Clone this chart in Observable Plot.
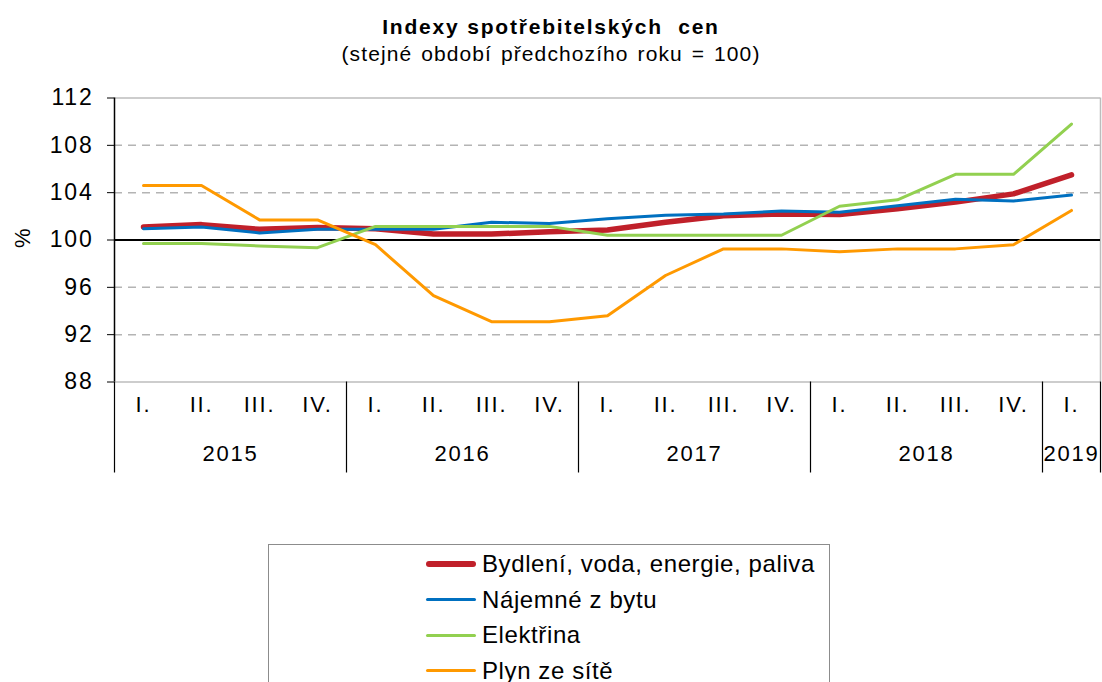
<!DOCTYPE html>
<html>
<head>
<meta charset="utf-8">
<script src="https://cdn.jsdelivr.net/npm/d3@7"></script>
<script src="https://cdn.jsdelivr.net/npm/@observablehq/plot@0.6"></script>
<style>
  html, body { margin: 0; padding: 0; background: #fff; }
  body { width: 1102px; height: 682px; position: relative; overflow: hidden; font-family: "Liberation Sans", Arial, sans-serif; color: #000; }
  #title { position: absolute; left: 0; width: 1102px; top: 15px; text-align: center; font-weight: bold; font-size: 21px; letter-spacing: 1.8px; white-space: pre; }
  #subtitle { position: absolute; left: 0; width: 1102px; top: 42px; text-align: center; font-size: 21px; letter-spacing: 1.1px; word-spacing: 2px; white-space: pre; }
  #chart { position: absolute; left: 0; top: 70px; }
  #legend { position: absolute; left: 268px; top: 544px; width: 562px; height: 160px; border: 1.5px solid #8c8c8c; box-sizing: border-box; }
  .item { position: absolute; left: 157px; height: 30px; display: flex; align-items: center; font-size: 24px; letter-spacing: 0.6px; white-space: nowrap; }
  .swatch { width: 50px; margin-right: 6px; border-radius: 3px; }
</style>
</head>
<body>
<div id="title">Indexy spotřebitelských  cen</div>
<div id="subtitle">(stejné období předchozího roku = 100)</div>
<div id="chart"></div>
<div id="legend"></div>
<script>
// ---- data ----
const quarters = ["I.","II.","III.","IV.","I.","II.","III.","IV.","I.","II.","III.","IV.","I.","II.","III.","IV.","I."];
const years = ["2015","2016","2017","2018","2019"];
const yearQuarterCounts = [4, 4, 4, 4, 1];
const yTicks = [88, 92, 96, 100, 104, 108, 112];

const seriesNames = ["Bydlení, voda, energie, paliva", "Nájemné z bytu", "Elektřina", "Plyn ze sítě"];
const bydleni = [101.1, 101.3, 100.9, 101.05, 100.95, 100.5, 100.5, 100.7, 100.85, 101.5, 102.05, 102.2, 102.15, 102.65, 103.2, 103.9, 105.5];
const najemne = [100.95, 101.1, 100.6, 100.9, 100.9, 100.9, 101.5, 101.4, 101.8, 102.1, 102.2, 102.45, 102.35, 102.9, 103.45, 103.3, 103.8];
const elektrina = [99.7, 99.7, 99.5, 99.35, 101.15, 101.15, 101.15, 101.15, 100.4, 100.4, 100.4, 100.4, 102.85, 103.4, 105.55, 105.55, 109.8];
const plyn = [104.6, 104.6, 101.7, 101.7, 99.6, 95.3, 93.1, 93.1, 93.6, 97.0, 99.25, 99.25, 99.0, 99.25, 99.25, 99.6, 102.5];

const seriesValues = [bydleni, najemne, elektrina, plyn];
const colors = ["#c0202a", "#0070c0", "#92d050", "#ff9900"];
const widths = [5.5, 3, 3, 3];

// ---- build tables ----
const rows = [];
seriesValues.forEach((vals, s) => vals.forEach((v, i) => rows.push({series: seriesNames[s], i, v})));
const quarterRows = quarters.map((q, i) => ({q, i}));
const yearRows = [];
const bounds = [-0.5];
let start = 0;
years.forEach((y, k) => {
  const n = yearQuarterCounts[k];
  yearRows.push({y, c: start + (n - 1) / 2});
  start += n;
  bounds.push(start - 0.5);
});

const W = 1102, H = 470, mTop = 27.5, mBottom = 158.5, mLeft = 114, mRight = 2;
const plotH = H - mTop - mBottom;

const lineMarks = seriesNames.map((name, s) =>
  Plot.line(rows.filter(d => d.series === name), {x: "i", y: "v", stroke: colors[s], strokeWidth: widths[s], strokeLinejoin: "round", strokeLinecap: "round"})
);

const chart = Plot.plot({
  width: W, height: H,
  marginTop: mTop, marginBottom: mBottom, marginLeft: mLeft, marginRight: mRight,
  style: {fontFamily: "'Liberation Sans', Arial, sans-serif", fontSize: "23px", letterSpacing: "1.8px", color: "#000", background: "#fff"},
  x: {domain: [-0.5, quarters.length - 0.5], axis: null},
  y: {domain: [88, 112], ticks: yTicks, tickSize: 7, tickPadding: 14, label: null},
  marks: [
    Plot.ruleY(yTicks.filter(t => t !== 100 && t !== 88 && t !== 112), {stroke: "#b4b4b4", strokeWidth: 1.5, strokeDasharray: "8,6"}),
    Plot.ruleY([88, 112], {stroke: "#bcbcbc", strokeWidth: 1.5}),
    Plot.ruleX([quarters.length - 0.5], {stroke: "#bcbcbc", strokeWidth: 1.5}),
    Plot.ruleY([100], {stroke: "#000", strokeWidth: 2}),
    Plot.ruleX([-0.5], {stroke: "#000", strokeWidth: 1.5}),
    ...lineMarks,
    Plot.ruleX(bounds, {stroke: "#000", strokeWidth: 1.2, insetTop: plotH, insetBottom: -91}),
    Plot.text(quarterRows, {x: "i", text: "q", frameAnchor: "bottom", dy: 30, fontSize: 22}),
    Plot.text(yearRows, {x: "c", text: "y", frameAnchor: "bottom", dy: 78.5, fontSize: 22}),
    Plot.text(["%"], {frameAnchor: "left", dx: -92, dy: 8, rotate: -90, fontSize: 22})
  ]
});
document.getElementById("chart").appendChild(chart);

// ---- legend ----
const legend = document.getElementById("legend");
seriesNames.forEach((name, s) => {
  const it = document.createElement("div");
  it.className = "item";
  it.style.top = (4 + s * 35.5) + "px";
  const sw = document.createElement("span");
  sw.className = "swatch";
  sw.style.height = widths[s] + "px";
  sw.style.background = colors[s];
  it.appendChild(sw);
  it.appendChild(document.createTextNode(name));
  legend.appendChild(it);
});
</script>
</body>
</html>
